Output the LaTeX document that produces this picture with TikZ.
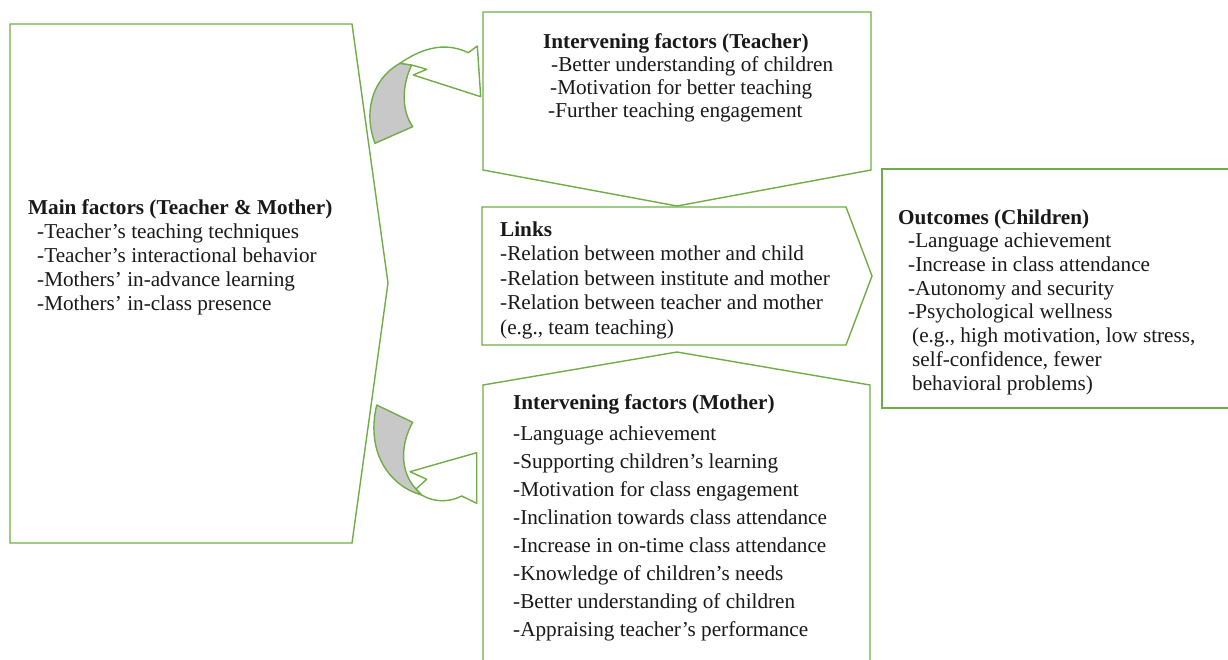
\documentclass[tikz,border=0pt]{standalone}
\usepackage{fontspec}
\setmainfont{Liberation Serif}
\definecolor{lg}{RGB}{112,173,71}
\definecolor{gf}{RGB}{200,200,200}
\definecolor{tx}{RGB}{25,25,25}
\begin{document}
\begin{tikzpicture}[x=1pt,y=-1pt,
  box/.style={draw=lg, line width=1.4pt, fill=white, line join=miter},
  bent/.style={draw=lg, line width=1.4pt, fill=white, line join=round},
  back/.style={draw=lg, line width=1.4pt, fill=gf, line join=round},
  txt/.style={anchor=base west, inner sep=0pt, align=left, text=tx}]
\useasboundingbox (0,0) rectangle (1228,660);
\fill[white] (0,0) rectangle (1228,660);

% Main factors box
\draw[box] (10,24) -- (352,24) -- (388,283) -- (352,543) -- (10,543) -- cycle;
% Teacher box
\draw[box] (483,12) -- (871,12) -- (871,170) -- (677,206) -- (483,170) -- cycle;
% Links box
\draw[box] (482,207) -- (846,207) -- (872,276) -- (846,345) -- (482,345) -- cycle;
% Mother box
\draw[box] (483,670) -- (483,385) -- (677,352) -- (870,385) -- (870,670);
% Outcomes box
\draw[box] (1232,169) -- (882,169) -- (882,408) -- (1232,408);

% Top curved arrow
\draw[back] (400,63.3) -- (411.7,65) .. controls (402,85) and (401,110) .. (412.7,126.7)
  -- (375,143.3) .. controls (364,115) and (370,80) .. cycle;
\draw[bent] (400,63.3) .. controls (418,51) and (442,40) .. (468.3,52.7)
  -- (477.3,46) -- (480.7,96.7) -- (413.3,75) -- (426.7,69.3) -- (411.7,65) -- cycle;

% Bottom curved arrow
\draw[back] (376.7,405) -- (412.7,422.3) .. controls (400,445) and (400,472) .. (416,489)
  -- (421.7,495) .. controls (392,487) and (365,455) .. cycle;
\draw[bent] (421.7,495) .. controls (435,503) and (450,502) .. (461.7,496)
  -- (476.7,503.3) -- (476.7,452.7) -- (410,471.7) -- (426.7,479.3) -- (416,489) -- cycle;

% Texts (anchored at the baseline of the last line)
\node[txt, font=\fontsize{21.2}{24}\selectfont] (main) at (28,310)
  {\textbf{Main factors (Teacher \& Mother)}\\
   \hspace*{9pt}-Teacher’s teaching techniques\\
   \hspace*{9pt}-Teacher’s interactional behavior\\
   \hspace*{9pt}-Mothers’ in-advance learning\\
   \hspace*{9pt}-Mothers’ in-class presence};

\node[txt, font=\fontsize{21.2}{23}\selectfont] (teacher) at (543,118)
  {\textbf{Intervening factors (Teacher)}\\
   \hspace*{8pt}-Better understanding of children\\
   \hspace*{7pt}-Motivation for better teaching\\
   \hspace*{5pt}-Further teaching engagement};

\node[txt, font=\fontsize{21.2}{24.5}\selectfont] (links) at (500,334)
  {\textbf{Links}\\
   -Relation between mother and child\\
   -Relation between institute and mother\\
   -Relation between teacher and mother\\
   (e.g., team teaching)};

\node[txt, font=\fontsize{21.2}{23.7}\selectfont] (outcomes) at (898,390)
  {\textbf{Outcomes (Children)}\\
   \hspace*{10pt}-Language achievement\\
   \hspace*{10pt}-Increase in class attendance\\
   \hspace*{10pt}-Autonomy and security\\
   \hspace*{10pt}-Psychological wellness\\
   \hspace*{14pt}(e.g., high motivation, low stress,\\
   \hspace*{14pt}self-confidence, fewer\\
   \hspace*{14pt}behavioral problems)};

\node[txt, font=\fontsize{21.2}{28}\selectfont] (mother) at (513,636)
  {\textbf{Intervening factors (Mother)}\\[3pt]
   -Language achievement\\
   -Supporting children’s learning\\
   -Motivation for class engagement\\
   -Inclination towards class attendance\\
   -Increase in on-time class attendance\\
   -Knowledge of children’s needs\\
   -Better understanding of children\\
   -Appraising teacher’s performance};
\end{tikzpicture}
\end{document}
